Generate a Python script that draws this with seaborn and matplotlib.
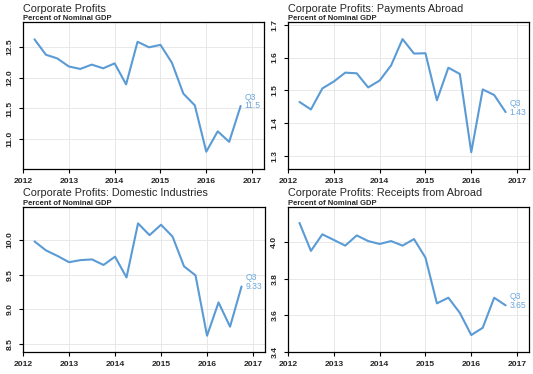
import pandas as pd
import matplotlib
matplotlib.use("Agg")
import matplotlib.pyplot as plt
import seaborn as sns

# quarterly data, percent of nominal GDP
quarters = ['2012Q1', '2012Q2', '2012Q3', '2012Q4', '2013Q1', '2013Q2', '2013Q3',
            '2013Q4', '2014Q1', '2014Q2', '2014Q3', '2014Q4', '2015Q1', '2015Q2',
            '2015Q3', '2015Q4', '2016Q1', '2016Q2', '2016Q3']
total = [12.62, 12.37, 12.31, 12.18, 12.14, 12.21, 12.15, 12.23, 11.89, 12.58,
         12.49, 12.53, 12.24, 11.74, 11.55, 10.80, 11.13, 10.96, 11.54]
payments = [1.465, 1.442, 1.506, 1.527, 1.554, 1.552, 1.509, 1.530, 1.576, 1.656,
            1.612, 1.613, 1.470, 1.569, 1.550, 1.312, 1.503, 1.486, 1.434]
domestic = [9.98, 9.85, 9.77, 9.68, 9.71, 9.72, 9.64, 9.76, 9.46, 10.24,
            10.07, 10.22, 10.05, 9.62, 9.49, 8.62, 9.10, 8.75, 9.33]
receipts = [4.107, 3.953, 4.044, 4.013, 3.982, 4.038, 4.007, 3.991, 4.007, 3.982,
            4.018, 3.916, 3.665, 3.696, 3.613, 3.491, 3.531, 3.696, 3.654]

titles = ['Corporate Profits', 'Corporate Profits: Payments Abroad',
          'Corporate Profits: Domestic Industries', 'Corporate Profits: Receipts from Abroad']
subtitle = 'Percent of Nominal GDP'
year_ticks = [2012, 2013, 2014, 2015, 2016, 2017]
y_ticks = [[11.0, 11.5, 12.0, 12.5], [1.3, 1.4, 1.5, 1.6, 1.7],
           [8.5, 9.0, 9.5, 10.0], [3.4, 3.6, 3.8, 4.0]]
y_limits = [(10.52, 12.90), (1.261, 1.708), (8.385, 10.476), (3.398, 4.194)]

sns.set_style('white')
plt.rcParams['font.family'] = ['Liberation Sans', 'DejaVu Sans']

line_color = '#5b9bd5'
label_color = '#6fa8dc'

# x position at quarter end, as decimal year
per = pd.PeriodIndex(quarters, freq='Q')
x_pos = per.year + per.quarter * 0.25

fig = plt.figure(figsize=(5.33, 3.74), dpi=100)
W, H = 533, 374
boxes = [(23, 22, 264, 169), (288, 22, 529, 169), (23, 207, 265, 352), (288, 207, 529, 352)]

for i, series in enumerate([total, payments, domestic, receipts]):
    l, t, r, b = boxes[i]
    ax = fig.add_axes([l / W, 1 - b / H, (r - l) / W, (b - t) / H])
    df = pd.DataFrame({'x': x_pos, 'y': series})
    sns.lineplot(data=df, x='x', y='y', ax=ax, color=line_color, linewidth=1.5)

    ax.set_xlim(2012, 2017.26)
    ax.set_ylim(*y_limits[i])
    ax.set_xticks(year_ticks)
    ax.set_yticks(y_ticks[i])
    ax.set_yticklabels([f'{v:.1f}' for v in y_ticks[i]], rotation=90, va='center')
    ax.set_xlabel('')
    ax.set_ylabel('')
    ax.grid(True, color='#e8e8e8', linewidth=0.7)
    for s in ax.spines.values():
        s.set_visible(True)
        s.set_color('black')
        s.set_linewidth(0.9)
    ax.tick_params(axis='both', direction='out', length=3, width=0.8, color='black',
                   labelsize=6.1, bottom=True, left=True)
    ax.tick_params(axis='x', pad=3.5)
    ax.tick_params(axis='y', pad=4)
    for lab in ax.get_xticklabels() + ax.get_yticklabels():
        lab.set_fontweight('bold')

    # last value label
    last_x, last_y = x_pos[-1], series[-1]
    ax.annotate(f'{last_y:.3g}', xy=(last_x, last_y), xytext=(4, 0),
                textcoords='offset pixels', color=label_color, fontsize=6.2,
                ha='left', va='center')
    ax.annotate('Q3', xy=(last_x, last_y), xytext=(4, 9),
                textcoords='offset pixels', color=label_color, fontsize=6.2,
                ha='left', va='center')

    # titles
    ax.annotate(titles[i], xy=(0, 1), xycoords='axes fraction', xytext=(0, 10.5),
                textcoords='offset pixels', fontsize=7.8, ha='left', va='baseline')
    ax.annotate(subtitle, xy=(0, 1), xycoords='axes fraction', xytext=(0, 2),
                textcoords='offset pixels', fontsize=5.5, fontweight='bold',
                ha='left', va='baseline')

fig.savefig('out.png', dpi=100)
